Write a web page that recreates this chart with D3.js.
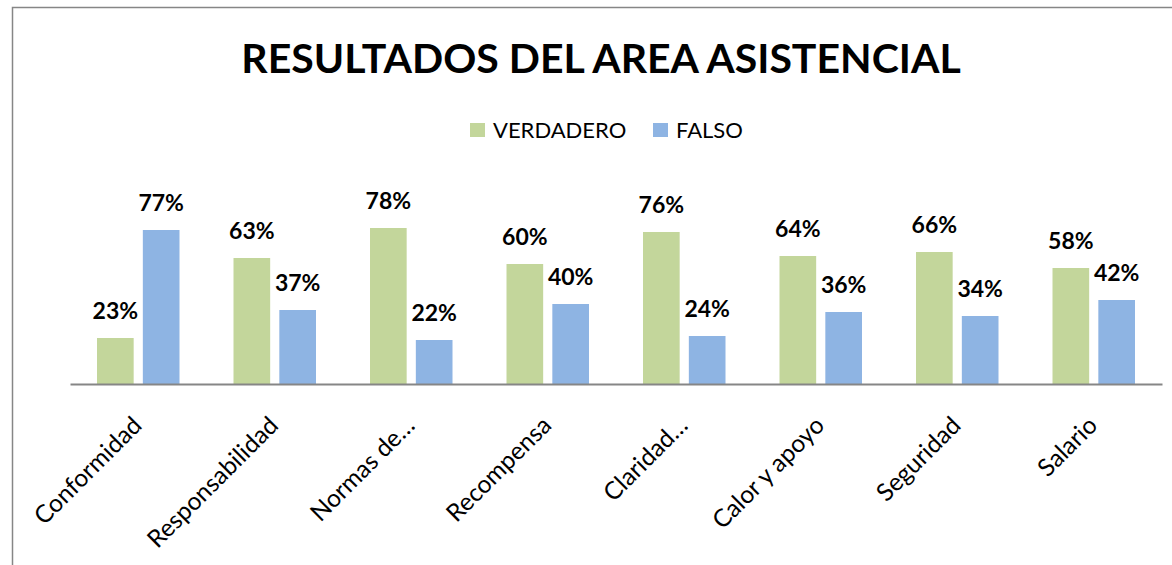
<!DOCTYPE html>
<html>
<head>
<meta charset="utf-8">
<script src="https://cdn.jsdelivr.net/npm/d3@7"></script>
<style>
  body { margin: 0; background: #fff; }
  text { font-family: Lato, "Open Sans", sans-serif; }
</style>
</head>
<body>
<script>
// Chart data
const categories = ["Conformidad", "Responsabilidad", "Normas de…", "Recompensa",
                    "Claridad…", "Calor y apoyo", "Seguridad", "Salario"];
const seriesNames = ["VERDADERO", "FALSO"];
const verdadero = [0.23, 0.63, 0.78, 0.60, 0.76, 0.64, 0.66, 0.58];
const falso = [0.77, 0.37, 0.22, 0.40, 0.24, 0.36, 0.34, 0.42];
const colors = ["#C3D69B", "#8EB4E3"];

const width = 1172, height = 565;

const svg = d3.select("body").append("svg")
    .attr("width", width)
    .attr("height", height);

// outer chart border (runs past the window at right and bottom)
svg.append("rect")
    .attr("x", 12.5).attr("y", 7.5)
    .attr("width", 1200).attr("height", 600)
    .attr("fill", "none")
    .attr("stroke", "#868686")
    .attr("stroke-width", 1.5);

// title
svg.append("text")
    .attr("x", 601).attr("y", 73)
    .attr("text-anchor", "middle")
    .attr("font-size", 41)
    .attr("font-weight", "bold")
    .text("RESULTADOS DEL AREA ASISTENCIAL");

// legend
const legendX = [470, 653];
const legend = svg.selectAll("g.legend")
    .data(seriesNames)
    .enter().append("g")
    .attr("transform", (d, i) => `translate(${legendX[i]},123)`);
legend.append("rect")
    .attr("width", 15).attr("height", 14)
    .attr("fill", (d, i) => colors[i]);
legend.append("text")
    .attr("x", 23).attr("y", 15)
    .attr("font-size", 22)
    .text(d => d);

// scales
const x = d3.scaleBand()
    .domain(categories)
    .range([70, 1162]);

const x1 = d3.scaleBand()
    .domain(seriesNames)
    .range([27, x.bandwidth() - 27])
    .paddingInner(0.2);

const y = d3.scaleLinear()
    .domain([0, 1])
    .range([384, 184]);

const rows = categories.map((c, i) => ({
    cat: c,
    vals: [
        { s: seriesNames[0], v: verdadero[i] },
        { s: seriesNames[1], v: falso[i] }
    ]
}));

const groups = svg.selectAll("g.cat")
    .data(rows)
    .enter().append("g")
    .attr("transform", d => `translate(${x(d.cat)},0)`);

groups.selectAll("rect")
    .data(d => d.vals)
    .enter().append("rect")
    .attr("x", d => x1(d.s))
    .attr("y", d => y(d.v))
    .attr("width", x1.bandwidth())
    .attr("height", d => y(0) - y(d.v))
    .attr("fill", (d, i) => colors[i]);

groups.selectAll("text")
    .data(d => d.vals)
    .enter().append("text")
    .attr("x", d => x1(d.s) + x1.bandwidth() / 2)
    .attr("y", d => y(d.v) - 19)
    .attr("text-anchor", "middle")
    .attr("font-size", 23)
    .attr("font-weight", "bold")
    .text(d => d3.format(".0%")(d.v));

// x axis
const xAxis = svg.append("g")
    .attr("transform", `translate(0,${y(0)})`)
    .call(d3.axisBottom(x).tickSize(0).tickPadding(0));
xAxis.select(".domain")
    .attr("stroke", "#868686")
    .attr("stroke-width", 2);
xAxis.selectAll("text")
    .attr("font-size", 24.5)
    .attr("fill", "#000")
    .attr("text-anchor", "end")
    .attr("dy", 0)
    .attr("transform", "translate(5,43) rotate(-45)");
</script>
</body>
</html>
